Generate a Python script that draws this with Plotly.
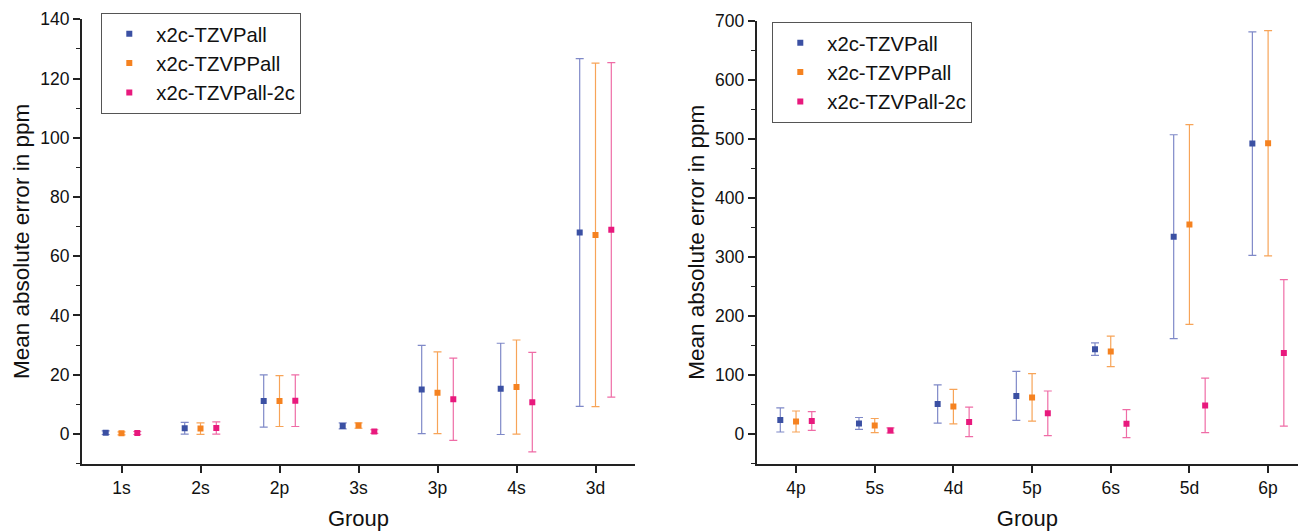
import plotly.graph_objects as go

# ---------------- data ----------------
series_names = ["x2c-TZVPall", "x2c-TZVPPall", "x2c-TZVPall-2c"]

left_groups = ["1s", "2s", "2p", "3s", "3p", "4s", "3d"]
left_tzvpall = [0.4, 1.9, 11.1, 2.7, 15.0, 15.2, 68.0]
left_tzvpall_err = [0.6, 2.0, 8.8, 1.0, 14.9, 15.4, 58.7]
left_tzvppall = [0.2, 1.8, 11.1, 2.8, 13.9, 15.8, 67.2]
left_tzvppall_err = [0.5, 1.95, 8.6, 0.9, 13.8, 15.9, 58.0]
left_tzvpall2c = [0.3, 2.0, 11.2, 0.8, 11.7, 10.7, 68.9]
left_tzvpall2c_err = [0.5, 2.05, 8.7, 0.6, 13.9, 16.8, 56.5]

right_groups = ["4p", "5s", "4d", "5p", "6s", "5d", "6p"]
right_tzvpall = [23.8, 18.0, 50.8, 64.5, 143.7, 334.5, 492.3]
right_tzvpall_err = [20.4, 10.0, 32.4, 41.5, 10.6, 172.7, 189.4]
right_tzvppall = [21.2, 14.3, 46.5, 62.0, 140.0, 355.2, 492.8]
right_tzvppall_err = [17.8, 12.0, 29.3, 40.2, 25.8, 169.3, 191.0]
right_tzvpall2c = [22.1, 6.0, 20.4, 35.0, 17.5, 48.5, 137.4]
right_tzvpall2c_err = [15.8, 4.3, 25.0, 37.9, 23.8, 46.2, 124.2]

# ---------------- style ----------------
marker_colors = ["#3B50A3", "#F58220", "#E8197D"]
bar_colors = ["#7F89C8", "#F7A458", "#EF6CA6"]
FONT = "Liberation Sans, Arial, sans-serif"
AXIS_COLOR = "#222222"
TEXT_COLOR = "#111111"

fig = go.Figure()

left_sets = [(left_tzvpall, left_tzvpall_err),
             (left_tzvppall, left_tzvppall_err),
             (left_tzvpall2c, left_tzvpall2c_err)]
right_sets = [(right_tzvpall, right_tzvpall_err),
              (right_tzvppall, right_tzvppall_err),
              (right_tzvpall2c, right_tzvpall2c_err)]

for k, (vals, errs) in enumerate(left_sets):
    fig.add_trace(go.Scatter(
        x=left_groups, y=vals, mode="markers", name=series_names[k],
        marker=dict(symbol="square", size=6, color=marker_colors[k]),
        error_y=dict(type="data", array=errs, visible=True,
                     color=bar_colors[k], thickness=1.2, width=4),
        xaxis="x", yaxis="y", legend="legend",
    ))

for k, (vals, errs) in enumerate(right_sets):
    fig.add_trace(go.Scatter(
        x=right_groups, y=vals, mode="markers", name=series_names[k],
        marker=dict(symbol="square", size=6, color=marker_colors[k]),
        error_y=dict(type="data", array=errs, visible=True,
                     color=bar_colors[k], thickness=1.2, width=4),
        xaxis="x2", yaxis="y2", legend="legend2",
    ))

W, H = 1298, 531

common_x = dict(
    type="category", showline=True, linecolor=AXIS_COLOR, linewidth=2,
    ticks="outside", ticklen=7, tickwidth=1.5, tickcolor=AXIS_COLOR,
    showgrid=False, zeroline=False, automargin=False,
    tickfont=dict(family=FONT, size=17.5, color=TEXT_COLOR),
    title=dict(text="Group", font=dict(family=FONT, size=22, color=TEXT_COLOR), standoff=15),
)
common_y = dict(
    showline=True, linecolor=AXIS_COLOR, linewidth=2,
    ticks="outside", ticklen=7, tickwidth=1.5, tickcolor=AXIS_COLOR,
    showgrid=False, zeroline=False, automargin=False,
    tickfont=dict(family=FONT, size=17.5, color=TEXT_COLOR),
    title=dict(text="Mean absolute error in ppm",
               font=dict(family=FONT, size=22.5, color=TEXT_COLOR), standoff=4),
)

legend_common = dict(
    xanchor="left", yanchor="top",
    bordercolor="#555555", borderwidth=1, bgcolor="white",
    itemwidth=44, font=dict(family=FONT, size=20.3, color=TEXT_COLOR),
    tracegroupgap=0,
)

fig.update_layout(
    width=W, height=H,
    margin=dict(l=0, r=0, t=0, b=0, autoexpand=False),
    paper_bgcolor="white", plot_bgcolor="white",
    scattermode="group", scattergap=0.4,
    font=dict(family=FONT, color=TEXT_COLOR),
    xaxis=dict(common_x, domain=[82 / W, 635 / W], range=[-0.5, 6.5], anchor="y"),
    yaxis=dict(common_y, domain=[1 - 463.5 / H, 1 - 19.3 / H], range=[-10, 140],
               tickmode="linear", tick0=0, dtick=20,
               minor=dict(ticks="outside", ticklen=4, dtick=10, tickwidth=1.2,
                          tickcolor=AXIS_COLOR, showgrid=False),
               anchor="x"),
    xaxis2=dict(common_x, domain=[756.7 / W, 1.0], range=[-0.5, 6.38], anchor="y2"),
    yaxis2=dict(common_y, domain=[1 - 463.5 / H, 1 - 21.0 / H], range=[-50, 700],
                tickmode="linear", tick0=0, dtick=100,
                minor=dict(ticks="outside", ticklen=4, dtick=50, tickwidth=1.2,
                           tickcolor=AXIS_COLOR, showgrid=False),
                anchor="x2"),
    legend=dict(legend_common, x=101.3 / W, y=1 - 13 / H),
    legend2=dict(legend_common, x=772.3 / W, y=1 - 22 / H),
)

fig.write_html(
    "out.html",
    config={"displayModeBar": False},
    post_script="document.body.style.margin='0';document.body.style.overflow='hidden';",
)
